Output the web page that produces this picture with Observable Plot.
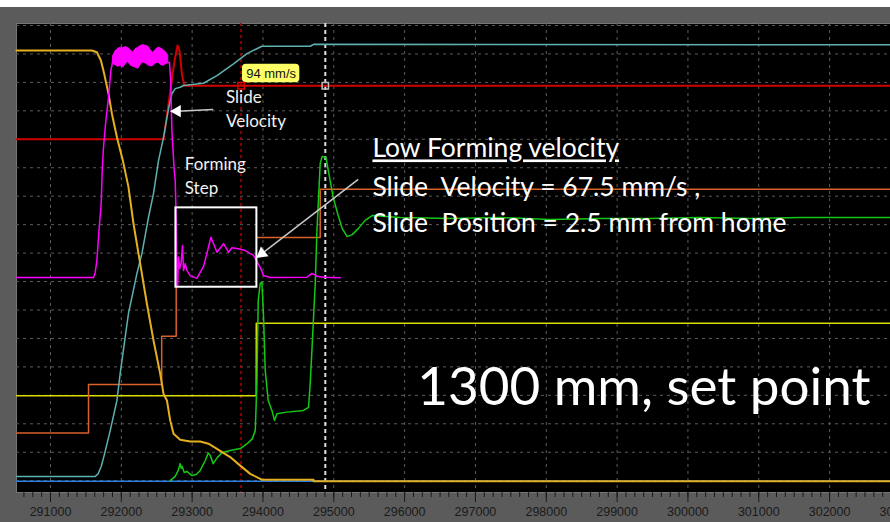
<!DOCTYPE html>
<html>
<head>
<meta charset="utf-8">
<script src="https://cdn.jsdelivr.net/npm/d3@7"></script>
<script src="https://cdn.jsdelivr.net/npm/@observablehq/plot@0.6"></script>
<style>
  html, body { margin: 0; padding: 0; background: #ffffff; }
  #chart { width: 890px; padding-top: 7px; background: #ffffff; }
</style>
</head>
<body>
<div id="chart"></div>
<script>
// Time axis (ms) and screen divisions
const tickTimes = [291000, 292000, 293000, 294000, 295000, 296000, 297000, 298000, 299000, 300000, 301000, 302000, 303000];
const gridDivisions = [0, 1, 2, 3, 4, 5, 6, 7, 8, 9, 10, 11, 12, 13, 14, 15, 16];
const timeDomain = [290520, 302860];
const divDomain = [-0.415, 16.07];

// Cursors
const cursorA = 293690;
const cursorB = 294880;
const cursorVelocity = 94; // mm/s read at cursor A

// Velocity command channel: mm/s, drawn with 50 mm/s per division, zero at division 12
const velocityZeroDiv = 12;
const velocityPerDiv = 50;

// Traces: [time ms, divisions]
const baseTrace = [[290520, -0.02], [302860, -0.02]];

const setPoint = [[290520, 2.99], [293905, 2.99], [293905, 5.53], [302860, 5.53]];

const stepSignal = [
  [290520, 1.68], [291537, 1.68], [291537, 3.38], [292570, 3.38], [292570, 5.08],
  [292775, 5.08], [292775, 6.83], [292775, null], [293914, 8.55], [294808, 8.55],
  [294808, 10.24], [302860, 10.24]
];

const slideTravel = [
  [290520, 0.15], [291631, 0.15], [291674, 0.25], [291716, 0.50], [291758, 0.89],
  [291843, 1.76], [291938, 2.82], [291984, 3.77], [292101, 5.88], [292220, 7.28],
  [292291, 7.99], [292384, 9.26], [292454, 10.09], [292525, 11.25], [292596, 12.07],
  [292666, 13.07], [292714, 13.60], [292761, 13.78], [292831, 13.83], [292878, 13.89],
  [293160, 13.97], [293350, 14.24], [293584, 14.65], [293773, 15.01], [293985, 15.27],
  [294667, 15.27], [294714, 15.34], [302860, 15.32]
];

const slidePosition = [
  [290520, 15.12], [291585, 15.12], [291655, 15.06], [291712, 14.77], [291758, 14.30],
  [291819, 13.60], [291867, 12.90], [291938, 12.07], [292022, 11.25], [292101, 10.32],
  [292172, 9.03], [292267, 7.62], [292361, 6.22], [292454, 4.93], [292549, 3.76],
  [292596, 3.05], [292644, 2.82], [292690, 2.12], [292737, 1.65], [292831, 1.44],
  [292973, 1.38], [293114, 1.38], [293231, 1.30], [293350, 1.12], [293537, 0.83],
  [293679, 0.53], [293820, 0.24], [293989, 0.03], [294714, 0.03], [294714, -0.02],
  [302860, -0.02]
];

// [time ms, mm/s]
const commandVelocity = [
  [290520, 0], [292596, 0], [292680, 74], [292751, 138], [292794, 165],
  [292822, 156], [292855, 115], [292888, 94], [302860, 94]
];

const forceTrace = [
  [292690, 0.00], [292761, 0.15], [292803, 0.36], [292831, 0.60], [292845, 0.43],
  [292859, 0.50], [292888, 0.29], [292930, 0.32], [292997, 0.18], [293058, 0.22],
  [293114, 0.36], [293185, 0.71], [293227, 0.97], [293255, 0.89], [293297, 0.60],
  [293354, 0.81], [293425, 0.99], [293537, 1.06], [293679, 1.13], [293777, 1.30],
  [293848, 1.47], [293891, 1.76], [293914, 3.42], [293933, 6.33], [293961, 6.93],
  [293985, 6.98], [294008, 5.75], [294032, 3.87], [294074, 2.82], [294126, 2.47],
  [294163, 2.12], [294197, 2.35], [294338, 2.41], [294572, 2.47], [294643, 2.58],
  [294667, 3.42], [294691, 4.58], [294714, 5.75], [294738, 6.93], [294762, 8.79],
  [294808, 11.15], [294836, 11.40], [294889, 11.36], [294935, 10.73], [294992, 9.95],
  [295062, 9.32], [295119, 8.86], [295189, 8.58], [295260, 8.65], [295345, 8.86],
  [295443, 9.15], [295542, 9.32], [295938, 9.25], [296644, 9.22], [297350, 9.25],
  [298056, 9.18], [298762, 9.22], [299468, 9.22], [300174, 9.25], [300880, 9.22],
  [301586, 9.25], [302860, 9.25]
];

const slideVelocity = [
  [290520, 7.14], [291607, 7.14], [291631, 7.32], [291655, 7.74], [291688, 8.91],
  [291716, 9.74], [291730, 10.90], [291748, 11.72], [291782, 12.66], [291819, 13.48],
  [291853, 14.42], [291881, 14.77], [292680, 14.70], [292697, 14.07], [292714, 12.31],
  [292747, 10.90], [292761, 10.55], [292780, 8.62], [292785, 6.86], [292796, 6.86],
  [292807, 7.86], [292824, 7.46], [292845, 7.67], [292864, 8.27], [292878, 7.39],
  [292902, 7.63], [292926, 7.39], [292973, 7.21], [293067, 7.11], [293160, 7.53],
  [293208, 7.98], [293265, 8.56], [293350, 8.03], [293443, 8.33], [293513, 8.03],
  [293561, 8.19], [293655, 8.15], [293749, 8.09], [293866, 7.92], [293961, 7.50],
  [294008, 7.21], [294102, 7.14], [294620, 7.15], [294691, 7.29], [294762, 7.19],
  [294855, 7.15], [295091, 7.13]
];

// High-speed ripple envelope: [time ms, low div, high div]
const velocityRipple = [
  [291885, 14.66, 14.92], [291920, 14.60, 15.10], [291956, 14.55, 15.18], [291990, 14.58, 15.22],
  [292027, 14.52, 15.20], [292060, 14.64, 15.24], [292097, 14.72, 15.21], [292130, 14.60, 15.14],
  [292168, 14.55, 15.04], [292200, 14.52, 15.16], [292239, 14.48, 15.22], [292275, 14.62, 15.28],
  [292309, 14.71, 15.31], [292345, 14.66, 15.28], [292380, 14.60, 15.26], [292415, 14.56, 15.12],
  [292450, 14.58, 15.04], [292485, 14.66, 15.14], [292521, 14.72, 15.22], [292555, 14.62, 15.20],
  [292592, 14.58, 15.14], [292630, 14.64, 15.06], [292662, 14.68, 14.94]
];

// Notes and callouts
const smallNotes = [
  {t: 293478, v: 13.45, text: "Slide"},
  {t: 293478, v: 12.64, text: "Velocity"},
  {t: 292896, v: 11.11, text: "Forming"},
  {t: 292896, v: 10.26, text: "Step"}
];
const mainNotes = [
  {t: 295545, v: 11.66, text: "Low Forming velocity"},
  {t: 295545, v: 10.29, text: "Slide  Velocity = 67.5 mm/s ,"},
  {t: 295545, v: 9.03, text: "Slide  Position = 2.5 mm from home"}
];
const setPointNote = [{t: 296178, v: 3.24, text: "1300 mm, set point"}];

const stepBox = [{x1: 292771, x2: 293914, y1: 6.80, y2: 9.59}];
const arrowShafts = [
  {x1: 293297, y1: 13.05, x2: 292790, y2: 12.99},
  {x1: 295345, y1: 10.59, x2: 293985, y2: 7.98}
];
const arrowHeads = [
  {t: 292789, v: 12.99, angle: 270},
  {t: 293985, v: 7.98, angle: 232}
];
const readoutBox = [{x1: 293710, x2: 294520, y1: 13.99, y2: 14.64}];
const readoutCenter = [{t: 294115, v: 14.31}];

const velDiv = mm => velocityZeroDiv + mm / velocityPerDiv;
const minorTicks = d3.range(290625, 302860, 125);

const traceLine = (data, color, width = 1.5) =>
  Plot.line(data, {x: d => d[0], y: d => d[1], stroke: color, strokeWidth: width, strokeLinejoin: "round"});

const chart = Plot.plot({
  width: 890,
  height: 515,
  marginLeft: 16,
  marginRight: 0,
  marginTop: 16,
  marginBottom: 30,
  x: {domain: timeDomain, axis: null},
  y: {domain: divDomain, axis: null},
  style: {background: "#5b5b5b", fontFamily: "Liberation Sans", fontSize: "12.5px", color: "#1a1a1a"},
  marks: [
    Plot.frame({fill: "#000000", stroke: "#767676"}),
    Plot.ruleY(gridDivisions, {stroke: "#5c5c5c", strokeDasharray: "3,4"}),
    Plot.ruleX(tickTimes.filter(t => t < timeDomain[1]), {stroke: "#5c5c5c", strokeDasharray: "3,4"}),
    Plot.ruleX([cursorA], {stroke: "#b00000", strokeWidth: 1.5, strokeDasharray: "3,3"}),
    Plot.ruleX([cursorB], {stroke: "#dcdcdc", strokeWidth: 2, strokeDasharray: "4,3"}),

    traceLine(baseTrace, "#2a7fe0"),
    traceLine(setPoint, "#dcdc00"),
    traceLine(stepSignal, "#d9622b"),
    Plot.line(commandVelocity, {x: d => d[0], y: d => velDiv(d[1]), stroke: "#d00000", strokeWidth: 2}),
    traceLine(slideTravel, "#5fb0b0"),
    traceLine(forceTrace, "#14c814"),
    traceLine(slidePosition, "#e4b020", 2),
    Plot.areaY(velocityRipple, {x: d => d[0], y1: d => d[1], y2: d => d[2], fill: "#ff00ff", stroke: "#ff00ff", strokeWidth: 1}),
    traceLine(slideVelocity, "#ff00ff"),

    Plot.rect(stepBox, {x1: "x1", x2: "x2", y1: "y1", y2: "y2", fill: "none", stroke: "#ffffff", strokeWidth: 2}),
    Plot.link(arrowShafts, {x1: "x1", y1: "y1", x2: "x2", y2: "y2", stroke: "#c8c8c8", strokeWidth: 1.5}),
    Plot.dot(arrowHeads, {x: "t", y: "v", symbol: "triangle", r: 4.6, fill: "#ffffff", stroke: "none", rotate: "angle"}),

    Plot.rect(readoutBox, {x1: "x1", x2: "x2", y1: "y1", y2: "y2", fill: "#ffff66", rx: 4}),
    Plot.text(readoutCenter, {x: "t", y: "v", text: () => `${cursorVelocity} mm/s`, fill: "#111111", fontSize: 13, fontFamily: "Liberation Sans"}),
    Plot.dot([cursorA], {x: d => d, y: () => velDiv(cursorVelocity), symbol: "square", r: 3.6, stroke: "#e00000", strokeWidth: 1.5, fill: "none"}),
    Plot.dot([cursorB], {x: d => d, y: () => velDiv(cursorVelocity), symbol: "square", r: 3.6, stroke: "#bdbdbd", strokeWidth: 1.5, fill: "none"}),

    Plot.text(smallNotes, {x: "t", y: "v", text: "text", textAnchor: "start", fill: "#f2f2f2", fontSize: 17, fontFamily: "Lato"}),
    Plot.text(mainNotes, {x: "t", y: "v", text: "text", textAnchor: "start", fill: "#ffffff", fontSize: 26.5, fontFamily: "Lato"}),
    Plot.text(setPointNote, {x: "t", y: "v", text: "text", textAnchor: "start", fill: "#ffffff", fontSize: 53, fontFamily: "Lato"}),

    Plot.axisX({ticks: minorTicks, tickSize: 5, tickFormat: () => "", color: "#1a1a1a"}),
    Plot.axisX({ticks: tickTimes, tickSize: 10, tickPadding: 5, tickFormat: d3.format("d"), color: "#1a1a1a", fontSize: 12.5})
  ]
});

// keep doubled spaces and underline the heading of the note
d3.select(chart).selectAll("text")
  .filter(function() { return /  /.test(this.textContent); })
  .attr("xml:space", "preserve")
  .style("white-space", "pre");
d3.select(chart).selectAll("text")
  .filter(function() { return this.textContent === "Low Forming velocity"; })
  .style("text-decoration", "underline");

document.getElementById("chart").append(chart);
</script>
</body>
</html>
